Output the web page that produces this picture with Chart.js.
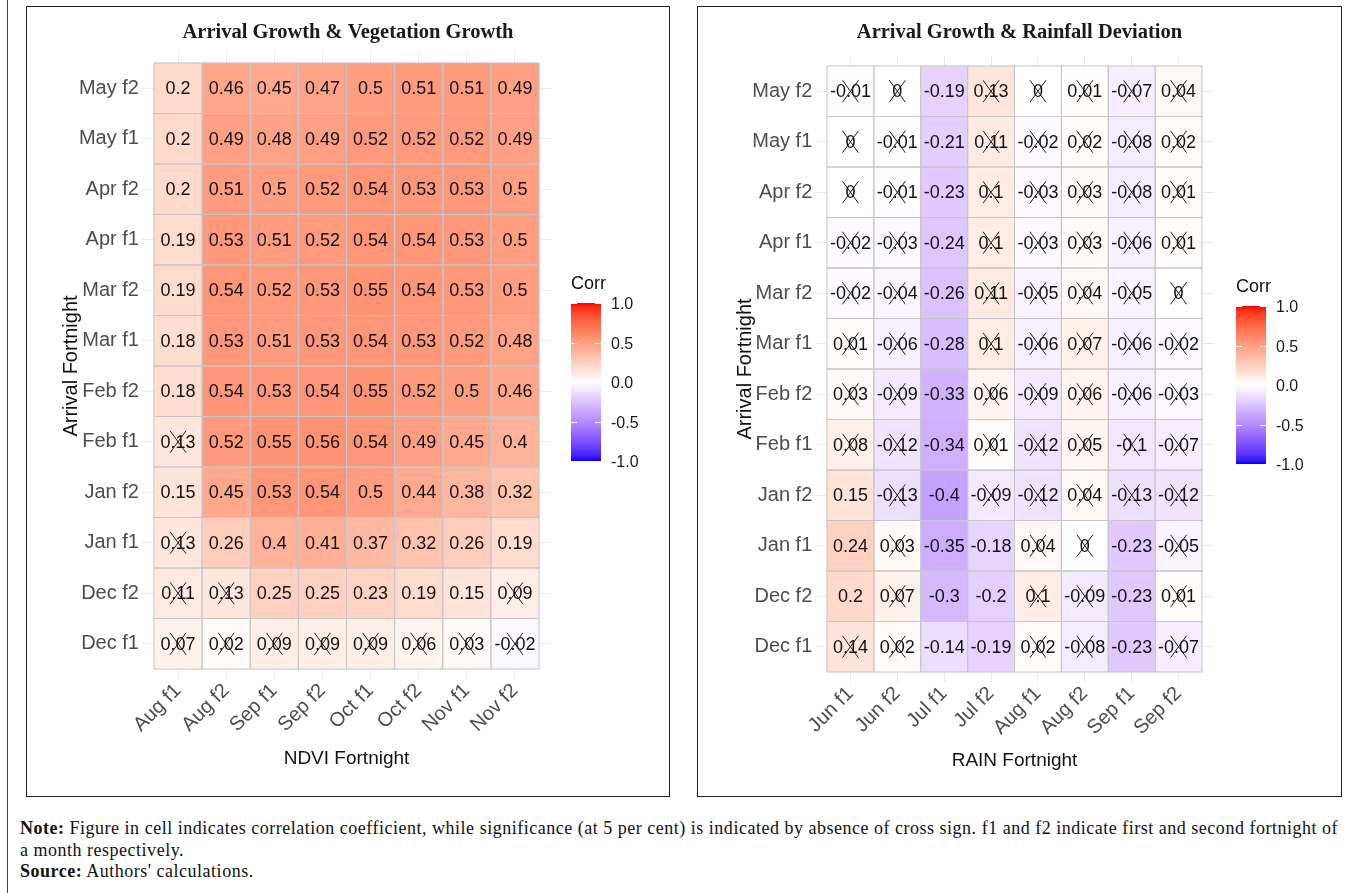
<!DOCTYPE html>
<html><head><meta charset="utf-8">
<script src="https://cdn.jsdelivr.net/npm/chart.js@4.4.1/dist/chart.umd.min.js"></script>
<style>
html,body{margin:0;padding:0;background:#fff;}
body{width:1358px;height:893px;position:relative;overflow:hidden;}
.box{position:absolute;border:1px solid #222;background:#fff;}
.box canvas{display:block;}
#frame{position:absolute;left:7px;top:0;height:893px;border-left:1px solid #444;}
#note{position:absolute;left:20px;top:818px;font-family:"Liberation Serif","DejaVu Serif",serif;font-size:18px;line-height:21.5px;color:#111;white-space:nowrap;}
</style></head><body>
<div id="frame"></div>
<div class="box" style="left:26px;top:6px;width:642px;height:789px;"><canvas id="c1" width="642" height="789"></canvas></div>
<div class="box" style="left:697px;top:6px;width:643px;height:789px;"><canvas id="c2" width="643" height="789"></canvas></div>
<div id="note"><span id="noteLine1"><b>Note:</b> Figure in cell indicates correlation coefficient, while significance (at 5 per cent) is indicated by absence of cross sign. f1 and f2 indicate first and second fortnight of</span><br>a month respectively.<br><b>Source:</b> Authors' calculations.</div>
<script>
// ---------- DATA ----------
const arrivalLabels = ['May f2','May f1','Apr f2','Apr f1','Mar f2','Mar f1','Feb f2','Feb f1','Jan f2','Jan f1','Dec f2','Dec f1'];
const ndviLabels = ['Aug f1','Aug f2','Sep f1','Sep f2','Oct f1','Oct f2','Nov f1','Nov f2'];
const rainLabels = ['Jun f1','Jun f2','Jul f1','Jul f2','Aug f1','Aug f2','Sep f1','Sep f2'];

// rows top (May f2) to bottom (Dec f1)
const vegCorr = [
  [0.2, 0.46, 0.45, 0.47, 0.5, 0.51, 0.51, 0.49],
  [0.2, 0.49, 0.48, 0.49, 0.52, 0.52, 0.52, 0.49],
  [0.2, 0.51, 0.5, 0.52, 0.54, 0.53, 0.53, 0.5],
  [0.19, 0.53, 0.51, 0.52, 0.54, 0.54, 0.53, 0.5],
  [0.19, 0.54, 0.52, 0.53, 0.55, 0.54, 0.53, 0.5],
  [0.18, 0.53, 0.51, 0.53, 0.54, 0.53, 0.52, 0.48],
  [0.18, 0.54, 0.53, 0.54, 0.55, 0.52, 0.5, 0.46],
  [0.13, 0.52, 0.55, 0.56, 0.54, 0.49, 0.45, 0.4],
  [0.15, 0.45, 0.53, 0.54, 0.5, 0.44, 0.38, 0.32],
  [0.13, 0.26, 0.4, 0.41, 0.37, 0.32, 0.26, 0.19],
  [0.11, 0.13, 0.25, 0.25, 0.23, 0.19, 0.15, 0.09],
  [0.07, 0.02, 0.09, 0.09, 0.09, 0.06, 0.03, -0.02]
];
// 1 = not significant (cross drawn)
const vegCross = [
  [0,0,0,0,0,0,0,0],
  [0,0,0,0,0,0,0,0],
  [0,0,0,0,0,0,0,0],
  [0,0,0,0,0,0,0,0],
  [0,0,0,0,0,0,0,0],
  [0,0,0,0,0,0,0,0],
  [0,0,0,0,0,0,0,0],
  [1,0,0,0,0,0,0,0],
  [0,0,0,0,0,0,0,0],
  [1,0,0,0,0,0,0,0],
  [1,1,0,0,0,0,0,1],
  [1,1,1,1,1,1,1,1]
];
const rainCorr = [
  [-0.01, 0, -0.19, 0.13, 0, 0.01, -0.07, 0.04],
  [0, -0.01, -0.21, 0.11, -0.02, 0.02, -0.08, 0.02],
  [0, -0.01, -0.23, 0.1, -0.03, 0.03, -0.08, 0.01],
  [-0.02, -0.03, -0.24, 0.1, -0.03, 0.03, -0.06, 0.01],
  [-0.02, -0.04, -0.26, 0.11, -0.05, 0.04, -0.05, 0],
  [0.01, -0.06, -0.28, 0.1, -0.06, 0.07, -0.06, -0.02],
  [0.03, -0.09, -0.33, 0.06, -0.09, 0.06, -0.06, -0.03],
  [0.08, -0.12, -0.34, 0.01, -0.12, 0.05, -0.1, -0.07],
  [0.15, -0.13, -0.4, -0.09, -0.12, 0.04, -0.13, -0.12],
  [0.24, 0.03, -0.35, -0.18, 0.04, 0, -0.23, -0.05],
  [0.2, 0.07, -0.3, -0.2, 0.1, -0.09, -0.23, 0.01],
  [0.14, 0.02, -0.14, -0.19, 0.02, -0.08, -0.23, -0.07]
];
const rainCross = [
  [1,1,0,1,1,1,1,1],
  [1,1,0,1,1,1,1,1],
  [1,1,0,1,1,1,1,1],
  [1,1,0,1,1,1,1,1],
  [1,1,0,1,1,1,1,1],
  [1,1,0,1,1,1,1,1],
  [1,1,0,1,1,1,1,1],
  [1,1,0,1,1,1,1,1],
  [0,1,0,1,1,1,1,1],
  [0,1,0,0,1,1,0,1],
  [0,1,0,0,1,1,0,1],
  [1,1,0,0,1,1,0,1]
];
const legendBreaks = [1, 0.5, 0, -0.5, -1];
const legendLabels = ['1.0', '0.5', '0.0', '-0.5', '-1.0'];

// ---------- COLOUR (ggplot gradient2 in Lab space) ----------
const LAB_RED = [53.24, 80.09, 67.20], LAB_WHITE = [100, 0, 0], LAB_BLUE = [32.30, 79.19, -107.86];
function lab2rgb(L, a, b) {
  const fy = (L + 16) / 116, fx = fy + a / 500, fz = fy - b / 200;
  const f = t => t > 6 / 29 ? t * t * t : 3 * (6 / 29) * (6 / 29) * (t - 4 / 29);
  const X = 0.95047 * f(fx), Y = f(fy), Z = 1.08883 * f(fz);
  const lin = [
    3.2404542 * X - 1.5371385 * Y - 0.4985314 * Z,
    -0.9692660 * X + 1.8760108 * Y + 0.0415560 * Z,
    0.0556434 * X - 0.2040259 * Y + 1.0572252 * Z
  ];
  return lin.map(c => {
    c = Math.max(0, Math.min(1, c));
    const g = c <= 0.0031308 ? 12.92 * c : 1.055 * Math.pow(c, 1 / 2.4) - 0.055;
    return Math.round(g * 255);
  });
}
function corrColor(v) {
  const end = v >= 0 ? LAB_RED : LAB_BLUE;
  const t = Math.min(1, Math.abs(v));
  const lab = LAB_WHITE.map((w, i) => w + (end[i] - w) * t);
  const c = lab2rgb(lab[0], lab[1], lab[2]);
  return 'rgb(' + c[0] + ',' + c[1] + ',' + c[2] + ')';
}

// ---------- PLUGINS ----------
const SANS = '"Liberation Sans", Arial, Helvetica, sans-serif';
const cellPlugin = {
  id: 'cellText',
  afterDatasetsDraw(chart) {
    const ctx = chart.ctx;
    chart.data.datasets.forEach((ds, di) => {
      const meta = chart.getDatasetMeta(di);
      meta.data.forEach((el, j) => {
        const p = el.getProps(['x', 'y', 'base', 'width'], true);
        const top = Math.min(p.y, p.base), h = Math.abs(p.base - p.y);
        const cy = top + h / 2;
        ctx.save();
        ctx.strokeStyle = '#C6C6C6';
        ctx.lineWidth = 1;
        ctx.strokeRect(p.x - p.width / 2, top, p.width, h);
        ctx.fillStyle = '#111';
        ctx.font = '18px ' + SANS;
        ctx.textAlign = 'center';
        ctx.textBaseline = 'middle';
        ctx.fillText(String(ds.corr[j]), p.x, cy + 1);
        if (ds.cross[j]) {
          ctx.strokeStyle = '#1a1a1a';
          ctx.lineWidth = 1;
          ctx.beginPath();
          ctx.moveTo(p.x - 8, cy - 11); ctx.lineTo(p.x + 8, cy + 11);
          ctx.moveTo(p.x + 8, cy - 11); ctx.lineTo(p.x - 8, cy + 11);
          ctx.stroke();
        }
        ctx.restore();
      });
    });
  }
};
const legendPlugin = {
  id: 'corrLegend',
  afterDraw(chart, args, opts) {
    const ctx = chart.ctx;
    const x = opts.x, y = opts.y, w = opts.w, h = opts.h;
    ctx.save();
    const grad = ctx.createLinearGradient(0, y, 0, y + h);
    for (let i = 0; i <= 40; i++) grad.addColorStop(i / 40, corrColor(1 - i / 20));
    ctx.fillStyle = grad;
    ctx.fillRect(x, y, w, h);
    ctx.strokeStyle = '#fff';
    ctx.lineWidth = 1;
    ctx.font = '16px ' + SANS;
    ctx.textAlign = 'left';
    ctx.textBaseline = 'middle';
    legendBreaks.forEach((v, i) => {
      const ty = Math.round(y + (1 - v) / 2 * h) + 0.5;
      ctx.beginPath();
      ctx.moveTo(x, ty); ctx.lineTo(x + 6, ty);
      ctx.moveTo(x + w - 6, ty); ctx.lineTo(x + w, ty);
      ctx.stroke();
      ctx.fillStyle = '#1a1a1a';
      ctx.fillText(legendLabels[i], x + w + 10, ty + 1);
    });
    ctx.fillStyle = '#111';
    ctx.font = '18px ' + SANS;
    ctx.fillText('Corr', x, y - 19);
    ctx.restore();
  }
};

// ---------- CHART BUILDER ----------
function buildChart(canvasId, P) {
  const W = P.W, H = P.H;
  const cw = (P.tileR - P.tileL) / 8, rh = (P.tileB - P.tileT) / 12;
  const xExp = 0.25, yExp = 0.2;
  const chartL = P.tileL - xExp * cw, chartR = P.tileR + xExp * cw;
  const chartT = P.tileT - yExp * rh, chartB = P.tileB + yExp * rh;
  const nRows = P.rowLabels.length;
  const titleSize = 20.5, titleLH = titleSize * 1.2;
  const datasets = P.corr.map((row, r) => {
    const yv = nRows - 1 - r;
    return {
      data: row.map((v, j) => ({ x: j, y: [yv - 0.5, yv + 0.5] })),
      backgroundColor: row.map(v => corrColor(v)),
      borderWidth: 0,
      grouped: false,
      barPercentage: 1,
      categoryPercentage: 1,
      corr: row,
      cross: P.cross[r]
    };
  });
  return new Chart(document.getElementById(canvasId), {
    type: 'bar',
    data: { datasets },
    plugins: [cellPlugin, legendPlugin],
    options: {
      responsive: false,
      animation: false,
      events: [],
      layout: { padding: 0 },
      plugins: {
        legend: { display: false },
        tooltip: { enabled: false },
        title: {
          display: true, text: P.title, color: '#1a1a1a',
          font: { family: '"Liberation Serif", "DejaVu Serif", serif', size: titleSize, weight: 'bold', lineHeight: 1.2 },
          padding: { top: P.titleY - titleLH / 2, bottom: chartT - (P.titleY + titleLH / 2) }
        },
        corrLegend: { x: P.legX, y: P.legY, w: 30, h: 158 }
      },
      scales: {
        x: {
          type: 'linear', min: -0.5 - xExp, max: 7.5 + xExp, offset: false,
          afterBuildTicks: s => { s.ticks = P.colLabels.map((_, i) => ({ value: i })); },
          afterFit: s => { s.height = H - chartB; },
          ticks: {
            autoSkip: false, minRotation: 45, maxRotation: 45, padding: 0,
            color: '#4D4D4D', font: { family: SANS, size: 20 },
            callback: v => P.colLabels[v]
          },
          grid: { color: '#EBEBEB', drawTicks: false, offset: false },
          border: { display: false },
          title: {
            display: true, text: P.xTitle, color: '#111',
            font: { family: SANS, size: 19 }, padding: { top: 0, bottom: P.xTitlePad }
          }
        },
        y: {
          type: 'linear', min: -0.5 - yExp, max: nRows - 0.5 + yExp,
          afterBuildTicks: s => { s.ticks = P.rowLabels.map((_, i) => ({ value: i })); },
          afterFit: s => { s.width = chartL; },
          ticks: {
            padding: 3, color: '#4D4D4D', font: { family: SANS, size: 20 },
            callback: v => P.rowLabels[nRows - 1 - v]
          },
          grid: { color: '#EBEBEB', drawTicks: false },
          border: { display: false },
          title: {
            display: true, text: 'Arrival Fortnight', color: '#111',
            font: { family: SANS, size: 20 }, padding: { top: P.yTitlePad, bottom: 0 }
          }
        },
        yR: {
          type: 'linear', position: 'right', display: true,
          afterFit: s => { s.width = W - chartR; },
          ticks: { display: false },
          grid: { display: false, drawTicks: false },
          border: { display: false }
        }
      }
    }
  });
}

buildChart('c1', {
  W: 642, H: 789, tileL: 127, tileR: 512, tileT: 56, tileB: 662,
  titleY: 26, title: 'Arrival Growth & Vegetation Growth',
  xTitle: 'NDVI Fortnight', xTitlePad: 26, yTitlePad: 32,
  legX: 544, legY: 296,
  rowLabels: arrivalLabels, colLabels: ndviLabels, corr: vegCorr, cross: vegCross
});
buildChart('c2', {
  W: 643, H: 789, tileL: 129, tileR: 504, tileT: 59, tileB: 665,
  titleY: 26, title: 'Arrival Growth & Rainfall Deviation',
  xTitlePad: 24, xTitle: 'RAIN Fortnight', yTitlePad: 35,
  legX: 538, legY: 299,
  rowLabels: arrivalLabels, colLabels: rainLabels, corr: rainCorr, cross: rainCross
});

// stretch the note so its first line spans the same width as in the source
(function fitNote() {
  const line = document.getElementById('noteLine1');
  const note = document.getElementById('note');
  const w = line.getBoundingClientRect().width;
  const n = line.textContent.length;
  note.style.letterSpacing = ((1318 - w) / n).toFixed(3) + 'px';
})();
</script>
</body></html>
